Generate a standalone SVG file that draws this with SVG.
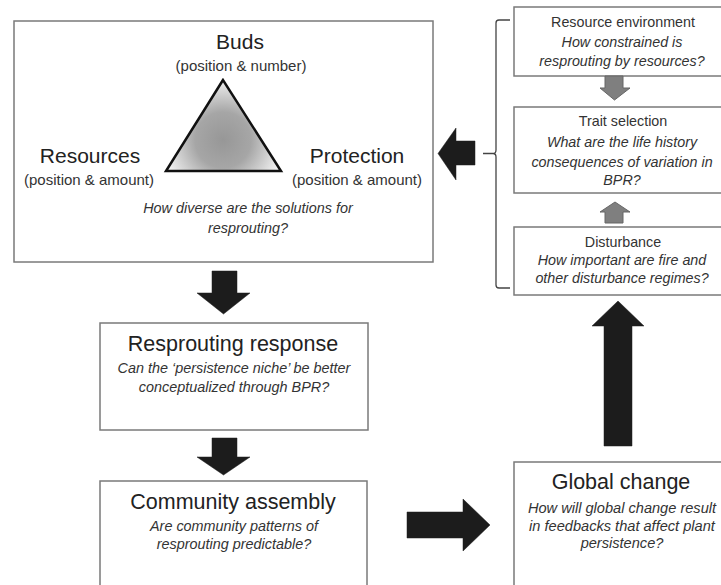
<svg xmlns="http://www.w3.org/2000/svg" width="721" height="585" viewBox="0 0 721 585">
<style>
.box{fill:#fff;stroke:#7a7a7a;stroke-width:1.5}
.t{font-family:"Liberation Sans",Arial,sans-serif;fill:#222;text-anchor:middle}
.big{font-size:21.5px}
.mid{font-size:21px}
.sm{font-size:15px;fill:#333}
.it{font-family:"Liberation Sans",Arial,sans-serif;font-style:italic;fill:#333;text-anchor:middle;font-size:14.4px}
.rt{font-size:14.3px;fill:#333}
.rgc{font-size:14.6px}
.blk{fill:#1c1c1c;stroke:#1c1c1c;stroke-width:0.5}
.gry{fill:#7f7f7f;stroke:#666;stroke-width:1}
.br{fill:none;stroke:#444;stroke-width:1.3}
</style>
<defs>
<radialGradient id="tg" cx="223" cy="140" r="62" gradientUnits="userSpaceOnUse">
<stop offset="0" stop-color="#979797"/>
<stop offset="0.45" stop-color="#a6a6a6"/>
<stop offset="1" stop-color="#f4f4f4"/>
</radialGradient>
</defs>
<rect width="721" height="585" fill="#fff"/>

<g id="bpr">
<rect class="box" x="14" y="21" width="419" height="241"/>
<polygon points="223,80 166,171 281,171" fill="url(#tg)" stroke="#111" stroke-width="2.5" stroke-linejoin="miter"/>
<text class="t mid" x="240" y="49">Buds</text>
<text class="t sm" x="241" y="71">(position &amp; number)</text>
<text class="t mid" x="90" y="163">Resources</text>
<text class="t sm" x="89" y="185">(position &amp; amount)</text>
<text class="t mid" x="357" y="163">Protection</text>
<text class="t sm" x="357" y="185">(position &amp; amount)</text>
<text class="it" x="248" y="213">How diverse are the solutions for</text>
<text class="it" x="248" y="233">resprouting?</text>
</g>

<g id="resprouting">
<rect class="box" x="100" y="323" width="268" height="107"/>
<text class="t big" x="233" y="351">Resprouting response</text>
<text class="it" x="234" y="373">Can the ‘persistence niche’ be better</text>
<text class="it" x="234" y="392">conceptualized through BPR?</text>
</g>

<g id="community">
<rect class="box" x="100" y="481" width="267" height="110"/>
<text class="t big" x="233" y="509">Community assembly</text>
<text class="it" x="234" y="531">Are community patterns of</text>
<text class="it" x="234" y="549">resprouting predictable?</text>
</g>

<g id="global">
<rect class="box" x="514" y="462" width="212" height="130"/>
<text class="t big" x="621" y="489">Global change</text>
<text class="it rgc" x="622" y="513">How will global change result</text>
<text class="it rgc" x="622" y="531">in feedbacks that affect plant</text>
<text class="it rgc" x="622" y="548">persistence?</text>
</g>

<g id="resource-env">
<rect class="box" x="514" y="7" width="212" height="69"/>
<text class="t rt" x="623" y="27">Resource environment</text>
<text class="it rt" x="622" y="47">How constrained is</text>
<text class="it rt" x="622" y="66">resprouting by resources?</text>
</g>

<g id="trait">
<rect class="box" x="514" y="107" width="212" height="86"/>
<text class="t rt" x="623" y="126">Trait selection</text>
<text class="it rt" x="622" y="147">What are the life history</text>
<text class="it rt" x="622" y="167">consequences of variation in</text>
<text class="it rt" x="622" y="185">BPR?</text>
</g>

<g id="disturbance">
<rect class="box" x="514" y="227" width="212" height="68"/>
<text class="t rt" x="623" y="247">Disturbance</text>
<text class="it rt" x="622" y="265">How important are fire and</text>
<text class="it rt" x="622" y="283">other disturbance regimes?</text>
</g>

<g id="connectors">
<polygon class="blk" points="212,271 237,271 237,293 250,293 223.5,314 197,293 212,293"/>
<polygon class="blk" points="212,438 237,438 237,457 250,457 223.5,475 197,457 212,457"/>
<polygon class="blk" points="407,512 463,512 463,499 490,525 463,551 463,538 407,538"/>
<polygon class="blk" points="604,446 604,326 592,326 618,301 644,326 632,326 632,446"/>
<polygon class="blk" points="475,141 456,141 456,128 438,153.5 456,180 456,165 475,165"/>
<polygon class="gry" points="605,76 623,76 623,88 630,88 614.5,100 600,88 605,88"/>
<polygon class="gry" points="605,223 623,223 623,212 630,212 615,202 600,212 605,212"/>
<path class="br" d="M510,20 L499,20 Q496,20 496,23 L496,150 Q496,153.5 493,153.5 L483,153.5 M493,153.5 Q496,153.5 496,157 L496,285 Q496,288 499,288 L510,288"/>
</g>
</svg>
